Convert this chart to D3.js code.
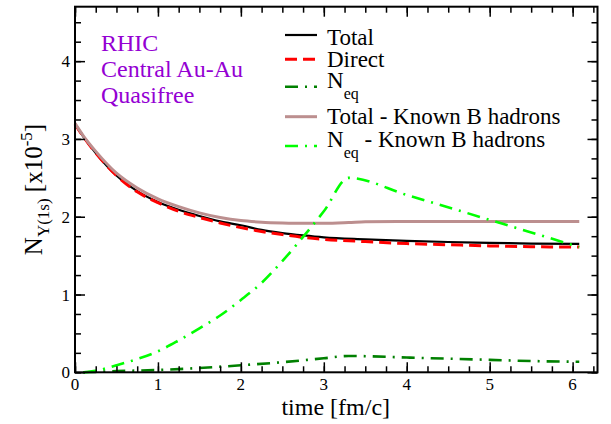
<!DOCTYPE html>
<html><head><meta charset="utf-8">
<script src="https://cdn.jsdelivr.net/npm/d3@7"></script>
<style>body{margin:0;background:#fff}svg{display:block}text{font-family:"Liberation Serif","Times New Roman",serif}</style>
</head><body>
<svg id="c" width="611" height="424"></svg>
<script>
// ---- data ----
const tTotal  = [0, 0.1, 0.25, 0.5, 0.75, 1, 1.25, 1.5, 1.75, 2, 2.25, 2.5, 2.75, 3, 3.5, 4, 4.5, 5, 5.5, 6.08];
const total   = [3.19, 3.03, 2.82, 2.53, 2.33, 2.19, 2.09, 2.01, 1.94, 1.89, 1.83, 1.79, 1.76, 1.735, 1.71, 1.69, 1.675, 1.665, 1.655, 1.65];
const direct  = [3.19, 3.03, 2.82, 2.53, 2.32, 2.18, 2.07, 1.99, 1.92, 1.86, 1.81, 1.77, 1.735, 1.71, 1.68, 1.655, 1.64, 1.625, 1.615, 1.61];
const tBrown  = [0, 0.1, 0.25, 0.5, 0.75, 1, 1.25, 1.5, 1.75, 2, 2.25, 2.5, 2.75, 3, 3.3, 3.5, 4, 5, 6.08];
const totalKnown = [3.2, 3.04, 2.84, 2.56, 2.37, 2.23, 2.13, 2.05, 1.99, 1.95, 1.93, 1.92, 1.915, 1.915, 1.925, 1.935, 1.94, 1.94, 1.94];
const tNeq    = [0.1, 0.5, 1, 1.5, 2, 2.5, 3, 3.3, 4, 4.5, 5, 5.5, 6.08];
const neq     = [0, 0.015, 0.03, 0.055, 0.09, 0.13, 0.18, 0.21, 0.19, 0.175, 0.16, 0.145, 0.135];
const tNeqK   = [0.1, 0.25, 0.5, 0.75, 1, 1.25, 1.5, 1.75, 2, 2.25, 2.5, 2.75, 3, 3.3, 4, 5, 6.08];
const neqKnown= [0, 0.02, 0.09, 0.17, 0.27, 0.41, 0.565, 0.73, 0.93, 1.15, 1.43, 1.74, 2.07, 2.5, 2.28, 1.96, 1.61];
const xTicks = [0, 1, 2, 3, 4, 5, 6];
const yTicks = [0, 1, 2, 3, 4];
const legendLabels = ["Total", "Direct", "N|eq", "Total - Known B hadrons", "N|eq| - Known B hadrons"];
const infoLines = ["RHIC", "Central Au-Au", "Quasifree"];

// ---- layout ----
const svg = d3.select("#c");
const L = 75, R = 597.5, T = 6.7, B = 372.3;
const x = d3.scaleLinear().domain([0, 6.3]).range([L, R]);
const y = d3.scaleLinear().domain([0, 4.7]).range([B, T]);

const series = [
  {t: tTotal, v: total, color: "#000000", w: 2.2, dash: null},
  {t: tTotal, v: direct, color: "#ff0000", w: 3, dash: "12,6"},
  {t: tNeq, v: neq, color: "#008000", w: 2.6, dash: "13,7,2,7"},
  {t: tBrown, v: totalKnown, color: "#bc8f8f", w: 3, dash: null},
  {t: tNeqK, v: neqKnown, color: "#00ff00", w: 2.6, dash: "13,7,2,7"}
];

const line = d3.line().x(d => x(d[0])).y(d => y(d[1])).curve(d3.curveMonotoneX);
series.forEach(s => {
  svg.append("path")
    .datum(s.t.map((t, i) => [t, s.v[i]]))
    .attr("d", line)
    .attr("fill", "none")
    .attr("stroke", s.color)
    .attr("stroke-width", s.w)
    .attr("stroke-dasharray", s.dash);
});

// ---- axes (ticks inward) ----
const minorX = d3.range(0, 6.3, 0.25);
const minorY = d3.range(0, 4.71, 0.25);
function axisTicks(axis, tr, vals, len) {
  const g = svg.append("g").attr("transform", tr).call(axis.tickValues(vals).tickSize(len).tickFormat(""));
  g.select(".domain").remove();
  g.selectAll("line").attr("stroke", "#000").attr("stroke-width", 1.5);
  return g;
}
axisTicks(d3.axisTop(x), `translate(0,${B})`, minorX, 6);
axisTicks(d3.axisTop(x), `translate(0,${B})`, xTicks, 10);
axisTicks(d3.axisBottom(x), `translate(0,${T})`, minorX, 6);
axisTicks(d3.axisBottom(x), `translate(0,${T})`, xTicks, 10);
axisTicks(d3.axisRight(y), `translate(${L},0)`, minorY, 6);
axisTicks(d3.axisRight(y), `translate(${L},0)`, yTicks, 10);
axisTicks(d3.axisLeft(y), `translate(${R},0)`, minorY, 6);
axisTicks(d3.axisLeft(y), `translate(${R},0)`, yTicks, 10);

svg.append("rect").attr("x", L).attr("y", T).attr("width", R - L).attr("height", B - T)
  .attr("fill", "none").attr("stroke", "#000").attr("stroke-width", 2);

// tick labels
svg.append("g").selectAll("text").data(xTicks).join("text")
  .attr("x", d => x(d)).attr("y", 390).attr("text-anchor", "middle")
  .attr("font-size", 17).text(d => d);
svg.append("g").selectAll("text").data(yTicks).join("text")
  .attr("x", 70).attr("y", d => y(d) + 6).attr("text-anchor", "end")
  .attr("font-size", 17).text(d => d);

// axis titles
svg.append("text").attr("x", (L + R) / 2 - 0.5).attr("y", 415).attr("text-anchor", "middle")
  .attr("font-size", 24).text("time [fm/c]");
const yl = svg.append("text").attr("transform", `translate(42,${(T + B) / 2}) rotate(-90)`)
  .attr("text-anchor", "middle").attr("font-size", 25);
yl.append("tspan").text("N");
yl.append("tspan").attr("font-size", 17).attr("dy", 7).text("Υ(1s)");
yl.append("tspan").attr("dy", -7).text(" [x10");
yl.append("tspan").attr("font-size", 17).attr("dy", -10).text("-5");
yl.append("tspan").attr("dy", 10).text("]");

// info text
svg.append("g").selectAll("text").data(infoLines).join("text")
  .attr("x", 101).attr("y", (d, i) => 51 + i * 26)
  .attr("font-size", 24).attr("fill", "#9400d3").text(d => d);

// legend
const legY = [35, 59.3, 86.7, 116.7, 146];
const legBase = [44.5, 66.5, 88.3, 124, 147.3];
series.forEach((s, i) => {
  svg.append("line").attr("x1", 285).attr("x2", 317).attr("y1", legY[i]).attr("y2", legY[i])
    .attr("stroke", s.color).attr("stroke-width", s.w).attr("stroke-dasharray", s.dash);
  const parts = legendLabels[i].split("|");
  const tx = svg.append("text").attr("x", 327).attr("y", legBase[i]).attr("font-size", 23);
  tx.append("tspan").text(parts[0]);
  if (parts.length > 1) {
    tx.append("tspan").attr("font-size", 16).attr("dy", 11).text(parts[1]);
    if (parts.length > 2) tx.append("tspan").attr("dy", -11).text(parts[2]);
  }
});
</script>
</body></html>
